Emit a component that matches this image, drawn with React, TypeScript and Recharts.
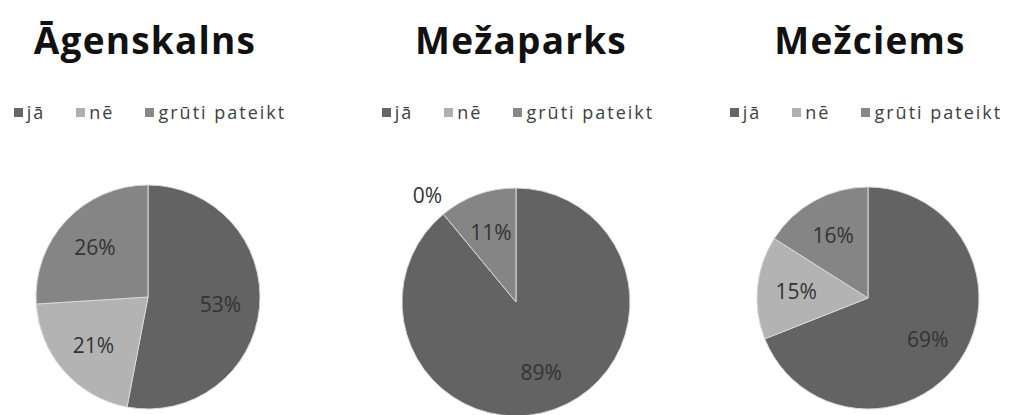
import React from "react";
import { PieChart, Pie, Cell, Legend } from "recharts";

const categories = ["jā", "nē", "grūti pateikt"];
const titles = ["Āgenskalns", "Mežaparks", "Mežciems"];
const agenskalnsValues = [53, 21, 26];
const mezaparksValues = [89, 0, 11];
const mezciemsValues = [69, 15, 16];

const sliceColors = ["#636363", "#b3b3b3", "#858585"];
const legendColors = ["#666666", "#b0b0b0", "#888888"];

const RAD = Math.PI / 180;

const renderLabel = (props: any) => {
  const { cx, cy, midAngle, outerRadius, value } = props;
  const r = value === 0 ? outerRadius * 1.22 : outerRadius * 0.65;
  const x = cx + r * Math.cos(-midAngle * RAD);
  const y = cy + r * Math.sin(-midAngle * RAD);
  return (
    <text
      x={x}
      y={y}
      fill="#333333"
      textAnchor="middle"
      dominantBaseline="central"
      fontFamily="Open Sans, sans-serif"
      fontSize={21}
    >
      {`${value}%`}
    </text>
  );
};

const LegendContent = () => (
  <div
    style={{
      display: "flex",
      justifyContent: "center",
      alignItems: "center",
      fontFamily: "Open Sans, sans-serif",
      fontSize: 18,
      color: "#404040",
      letterSpacing: 2,
      whiteSpace: "nowrap",
    }}
  >
    {categories.map((c, i) => (
      <span key={c} style={{ display: "flex", alignItems: "center", marginRight: i < 2 ? 31 : 0 }}>
        <span style={{ display: "inline-block", width: 9, height: 9, background: legendColors[i], marginRight: 4 }} />
        {c}
      </span>
    ))}
  </div>
);

type PanelProps = {
  title: string;
  values: number[];
  left: number;
  width: number;
  cx: number;
  cy: number;
  r: number;
  titleX: number;
  legendX: number;
};

const Panel = ({ title, values, left, width, cx, cy, r, titleX, legendX }: PanelProps) => {
  const data = categories.map((name, i) => ({ name, value: values[i] }));
  return (
    <div style={{ position: "absolute", left, top: 0, width, height: 415 }}>
      <div
        style={{
          position: "absolute",
          left: titleX - 160,
          width: 320,
          top: 15,
          textAlign: "center",
          fontFamily: "Open Sans, sans-serif",
          fontWeight: 700,
          fontSize: 37,
          letterSpacing: 1.2,
          color: "#111",
          lineHeight: "50px",
        }}
      >
        {title}
      </div>
      <PieChart width={width} height={415} margin={{ top: 0, right: 0, bottom: 0, left: 0 }}>
        <Legend
          content={<LegendContent />}
          wrapperStyle={{ position: "absolute", top: 100, left: legendX - 170, width: 340 }}
        />
        <Pie
          data={data}
          dataKey="value"
          nameKey="name"
          cx={cx}
          cy={cy}
          outerRadius={r}
          startAngle={90}
          endAngle={-270}
          stroke="#d8d8d8"
          strokeWidth={1}
          label={renderLabel}
          labelLine={false}
          isAnimationActive={false}
        >
          {data.map((d, i) => (
            <Cell key={d.name} fill={sliceColors[i]} />
          ))}
        </Pie>
      </PieChart>
    </div>
  );
};

export default function App() {
  return (
    <div style={{ position: "absolute", left: 0, top: 0, width: 1015, height: 415, background: "#fff", overflow: "hidden" }}>
      <Panel title={titles[0]} values={agenskalnsValues} left={0} width={338} cx={148} cy={297} r={112} titleX={145} legendX={150} />
      <Panel title={titles[1]} values={mezaparksValues} left={338} width={338} cx={178} cy={302} r={114} titleX={183} legendX={180} />
      <Panel title={titles[2]} values={mezciemsValues} left={676} width={339} cx={192} cy={298} r={111} titleX={194} legendX={190} />
    </div>
  );
}
